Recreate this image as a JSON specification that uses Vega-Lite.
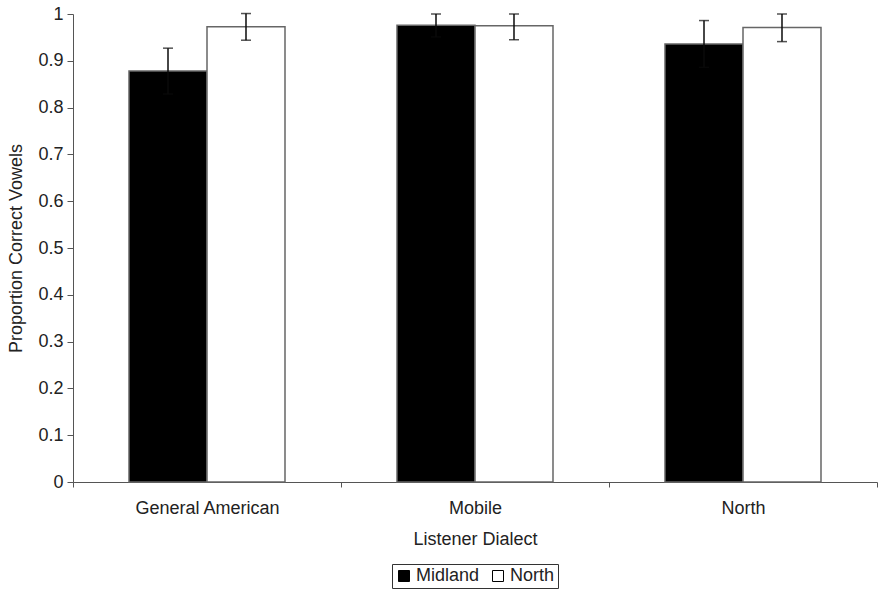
{
  "$schema": "https://vega.github.io/schema/vega-lite/v6.json",
  "width": 804,
  "height": 468,
  "padding": {"left": 73, "top": 14, "right": 2, "bottom": 109},
  "autosize": {"type": "none"},
  "background": "white",
  "config": {
    "view": {"stroke": null},
    "font": "Liberation Sans",
    "axis": {"labelFont": "Liberation Sans", "titleFont": "Liberation Sans", "labelColor": "#222", "titleColor": "#222", "domainColor": "#555", "tickColor": "#555", "grid": false, "labelFontSize": 18, "titleFontSize": 18, "titleFontWeight": "normal"},
    "legend": {"labelFont": "Liberation Sans", "labelFontSize": 18, "labelColor": "#222"}
  },
  "data": {
    "values": [
      {"dialect": "General American", "speaker": "Midland", "value": 0.878, "lo": 0.829, "hi": 0.927},
      {"dialect": "General American", "speaker": "North", "value": 0.973, "lo": 0.944, "hi": 1.001},
      {"dialect": "Mobile", "speaker": "Midland", "value": 0.976, "lo": 0.951, "hi": 1.0},
      {"dialect": "Mobile", "speaker": "North", "value": 0.975, "lo": 0.945, "hi": 1.0},
      {"dialect": "North", "speaker": "Midland", "value": 0.936, "lo": 0.886, "hi": 0.986},
      {"dialect": "North", "speaker": "North", "value": 0.971, "lo": 0.941, "hi": 1.0}
    ]
  },
  "encoding": {
    "x": {
      "field": "dialect", "type": "nominal",
      "sort": ["General American", "Mobile", "North"],
      "scale": {"paddingInner": 0, "paddingOuter": 0},
      "axis": {"labelAngle": 0, "tickBand": "extent", "tickSize": 5, "labelPadding": 12, "title": "Listener Dialect", "titlePadding": 13}
    },
    "xOffset": {"field": "speaker", "type": "nominal", "sort": ["Midland", "North"], "scale": {"paddingInner": 0, "paddingOuter": 0.718}}
  },
  "layer": [
    {
      "mark": {"type": "bar", "stroke": "#666", "strokeWidth": 1.5},
      "encoding": {
        "y": {"field": "value", "type": "quantitative", "scale": {"domain": [0, 1], "nice": false}, "axis": {"values": [0, 0.1, 0.2, 0.3, 0.4, 0.5, 0.6, 0.7, 0.8, 0.9, 1], "format": "~g", "tickSize": 6, "labelPadding": 4, "title": "Proportion Correct Vowels", "titlePadding": 12}},
        "fill": {"field": "speaker", "type": "nominal", "sort": ["Midland", "North"], "scale": {"domain": ["Midland", "North"], "range": ["#000000", "#ffffff"]},
          "legend": {"title": null, "orient": "none", "legendX": 319, "legendY": 550, "direction": "horizontal", "symbolType": "square", "symbolSize": 121, "symbolStrokeColor": "#000", "symbolStrokeWidth": 1, "strokeColor": "#333", "padding": 3, "columnPadding": 9, "labelOffset": 3}}
      }
    },
    {
      "mark": {"type": "rule", "color": "#0a0a0a", "strokeWidth": 1.5},
      "encoding": {"y": {"field": "lo", "type": "quantitative"}, "y2": {"field": "hi"}}
    },
    {
      "mark": {"type": "tick", "color": "#0a0a0a", "size": 10, "thickness": 1.5},
      "encoding": {"y": {"field": "lo", "type": "quantitative"}}
    },
    {
      "mark": {"type": "tick", "color": "#0a0a0a", "size": 10, "thickness": 1.5},
      "encoding": {"y": {"field": "hi", "type": "quantitative"}}
    }
  ]
}
